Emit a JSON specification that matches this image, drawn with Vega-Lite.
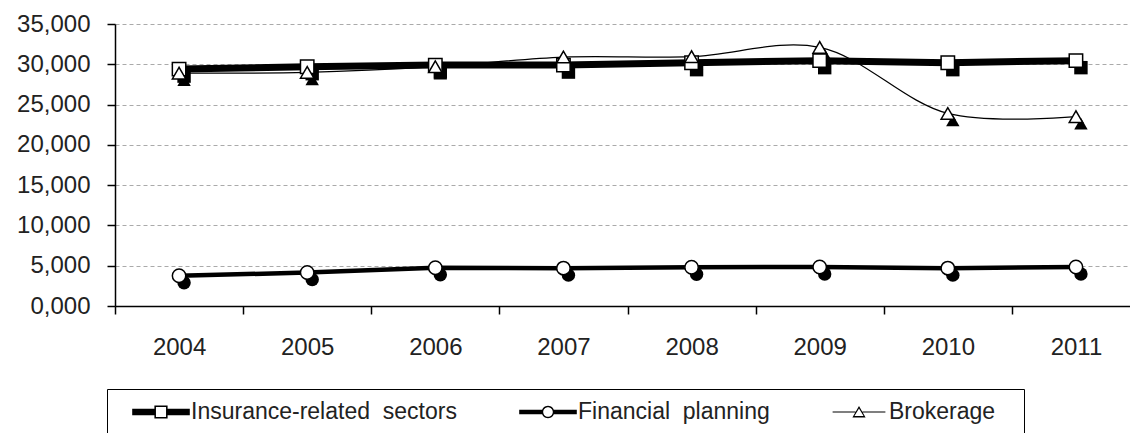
{
  "$schema": "https://vega.github.io/schema/vega-lite/v6.json",
  "autosize": "none",
  "width": 1025,
  "height": 282,
  "padding": {"left": 115, "top": 24, "right": 0, "bottom": 127},
  "background": "white",
  "config": {"font": "Liberation Sans", "view": {"stroke": null}},
  "data": {
    "values": [
      {"series": "Insurance-related sectors", "year": 2004, "value": 29.4},
      {"series": "Insurance-related sectors", "year": 2005, "value": 29.7},
      {"series": "Insurance-related sectors", "year": 2006, "value": 29.9},
      {"series": "Insurance-related sectors", "year": 2007, "value": 29.9},
      {"series": "Insurance-related sectors", "year": 2008, "value": 30.2},
      {"series": "Insurance-related sectors", "year": 2009, "value": 30.45},
      {"series": "Insurance-related sectors", "year": 2010, "value": 30.2},
      {"series": "Insurance-related sectors", "year": 2011, "value": 30.45},
      {"series": "Financial planning", "year": 2004, "value": 3.75},
      {"series": "Financial planning", "year": 2005, "value": 4.15},
      {"series": "Financial planning", "year": 2006, "value": 4.75},
      {"series": "Financial planning", "year": 2007, "value": 4.7},
      {"series": "Financial planning", "year": 2008, "value": 4.8},
      {"series": "Financial planning", "year": 2009, "value": 4.85},
      {"series": "Financial planning", "year": 2010, "value": 4.7},
      {"series": "Financial planning", "year": 2011, "value": 4.85},
      {"series": "Brokerage", "year": 2004, "value": 28.9},
      {"series": "Brokerage", "year": 2005, "value": 29.0},
      {"series": "Brokerage", "year": 2006, "value": 29.7},
      {"series": "Brokerage", "year": 2007, "value": 30.9},
      {"series": "Brokerage", "year": 2008, "value": 30.95},
      {"series": "Brokerage", "year": 2009, "value": 32.1},
      {"series": "Brokerage", "year": 2010, "value": 23.9},
      {"series": "Brokerage", "year": 2011, "value": 23.5}
    ]
  },
  "encoding": {
    "x": {
      "field": "year",
      "type": "ordinal",
      "scale": {"domain": [2004, 2005, 2006, 2007, 2008, 2009, 2010, 2011], "paddingInner": 0, "paddingOuter": 0},
      "axis": {
        "title": null,
        "labelAngle": 0,
        "labelFontSize": 24,
        "labelColor": "#222",
        "labelPadding": 21,
        "tickBand": "extent",
        "tickSize": 8,
        "tickColor": "black",
        "tickWidth": 1.5,
        "domainColor": "black",
        "domainWidth": 1.5,
        "grid": false
      }
    },
    "y": {
      "field": "value",
      "type": "quantitative",
      "scale": {"domain": [0, 35], "nice": false, "zero": true},
      "axis": {
        "title": null,
        "values": [0, 5, 10, 15, 20, 25, 30, 35],
        "labelExpr": "replace(format(datum.value, '.3f'), '.', ',')",
        "labelFontSize": 24,
        "labelColor": "#222",
        "labelPadding": 17,
        "tickSize": 8,
        "tickColor": "black",
        "tickWidth": 1.5,
        "domainColor": "black",
        "domainWidth": 1.5,
        "grid": true,
        "gridDash": [4, 3],
        "gridColor": "#aaa",
        "gridWidth": 1
      }
    }
  },
  "layer": [
    {
      "mark": {"type": "point", "filled": true, "color": "black", "opacity": 1, "size": 180, "xOffset": 5, "yOffset": 7},
      "encoding": {
        "shape": {
          "field": "series",
          "scale": {"domain": ["Insurance-related sectors", "Financial planning", "Brokerage"], "range": ["square", "circle", "triangle-up"]},
          "legend": null
        }
      }
    },
    {
      "transform": [{"filter": "datum.series !== 'Brokerage'"}],
      "mark": {"type": "line", "color": "black", "strokeCap": "round", "strokeJoin": "round"},
      "encoding": {
        "strokeWidth": {
          "field": "series",
          "scale": {"domain": ["Insurance-related sectors", "Financial planning"], "range": [7, 4.5]},
          "legend": null
        }
      }
    },
    {
      "transform": [{"filter": "datum.series === 'Brokerage'"}],
      "mark": {"type": "line", "color": "black", "strokeWidth": 1.2, "interpolate": "catmull-rom"},
      "encoding": {}
    },
    {
      "mark": {"type": "point", "filled": true, "fill": "white", "stroke": "black", "strokeWidth": 1.5, "size": 180, "opacity": 1},
      "encoding": {
        "shape": {
          "field": "series",
          "scale": {"domain": ["Insurance-related sectors", "Financial planning", "Brokerage"], "range": ["square", "circle", "triangle-up"]},
          "legend": null
        }
      }
    },
    {
      "transform": [{"filter": "datum.value < -100"}],
      "mark": {"type": "point", "filled": true, "color": "black", "opacity": 1},
      "encoding": {
        "shape": {
          "field": "series",
          "scale": {
            "domain": ["Insurance-related sectors", "Financial planning", "Brokerage"],
            "range": [
              "M-2.4,-0.28H-0.55V0.28H-2.4Z M0.55,-0.28H2.4V0.28H0.55Z M-0.55,-0.55H0.55V0.55H-0.55Z M-0.42,-0.42V0.42H0.42V-0.42Z",
              "M-2.4,-0.18H-0.48V0.18H-2.4Z M0.48,-0.18H2.4V0.18H0.48Z M0.52,0 C0.52,0.287 0.287,0.52 0,0.52 C-0.287,0.52 -0.52,0.287 -0.52,0 C-0.52,-0.287 -0.287,-0.52 0,-0.52 C0.287,-0.52 0.52,-0.287 0.52,0Z M0.4,0 C0.4,-0.221 0.221,-0.4 0,-0.4 C-0.221,-0.4 -0.4,-0.221 -0.4,0 C-0.4,0.221 -0.221,0.4 0,0.4 C0.221,0.4 0.4,0.221 0.4,0Z",
              "M-2.2,-0.05H-0.29V0.05H-2.2Z M0.29,-0.05H2.2V0.05H0.29Z M0,-0.5L0.55,0.45L-0.55,0.45Z M0,-0.3L-0.38,0.33L0.38,0.33Z"
            ]
          },
          "legend": {
            "title": " ",
            "titleOrient": "left",
            "titleFontSize": 1,
            "titlePadding": 31,
            "orient": "none",
            "legendX": -8,
            "legendY": 365,
            "direction": "horizontal",
            "strokeColor": "black",
            "fillColor": "white",
            "padding": 11,
            "symbolSize": 576,
            "symbolFillColor": "black",
            "symbolStrokeWidth": 0,
            "symbolOpacity": 1,
            "labelFontSize": 23,
            "labelColor": "#222",
            "labelOffset": 18,
            "labelLimit": 500,
            "columnPadding": 45,
            "labelExpr": "replace(datum.label, ' ', '\u00a0\u00a0') + '\u2800'"
          }
        }
      }
    }
  ],
  "resolve": {"scale": {"shape": "independent", "strokeWidth": "independent"}}
}
